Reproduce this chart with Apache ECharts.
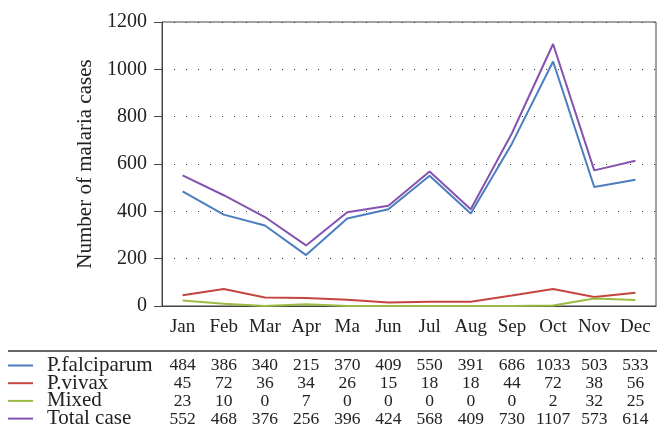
<!DOCTYPE html>
<html><head><meta charset="utf-8">
<script src="https://cdn.jsdelivr.net/npm/echarts@6/dist/echarts.min.js"></script>
<style>html,body{margin:0;padding:0;background:#fff}#c{width:657px;height:430px}</style>
</head><body><div id="c"></div>
<script>
const months = ['Jan','Feb','Mar','Apr','Ma','Jun','Jul','Aug','Sep','Oct','Nov','Dec'];
const falciparum = [484,386,340,215,370,409,550,391,686,1033,503,533];
const vivax = [45,72,36,34,26,15,18,18,44,72,38,56];
const mixed = [23,10,0,7,0,0,0,0,0,2,32,25];
const total = [552,468,376,256,396,424,568,409,730,1107,573,614];
const seriesNames = ['P.falciparum','P.vivax','Mixed','Total case'];
const colors = ['#4a7ebf','#c4463f','#9bbb43','#8652b0'];
const yTicks = [0,200,400,600,800,1000,1200];

const FONT = '"Liberation Serif", "DejaVu Serif", serif';
const rows = [falciparum, vivax, mixed, total];
const rowOffsets = [50, 68, 86, 104];

const chart = echarts.init(document.getElementById('c'));
const xAxes = [{
  type: 'category', data: months, gridIndex: 0, position: 'bottom',
  axisLine: {lineStyle: {color: '#444', width: 1}},
  axisTick: {alignWithLabel: true, length: 8, lineStyle: {color: '#444'}},
  axisLabel: {color: '#222', fontFamily: FONT, fontSize: 19, margin: 12, interval: 0},
  splitLine: {show: false}
}];
rows.forEach((r, k) => {
  xAxes.push({
    type: 'category', data: months, gridIndex: 0, position: 'bottom', offset: rowOffsets[k],
    axisLine: {show: false}, axisTick: {show: false}, splitLine: {show: false},
    axisLabel: {color: '#222', fontFamily: FONT, fontSize: 17.5, margin: 0, interval: 0,
      formatter: (v, i) => String(r[i])}
  });
});

chart.setOption({
  animation: false,
  grid: {left: 162, top: 22, right: 1, bottom: 124, show: true, borderColor: '#444', borderWidth: 1},
  legend: {
    orient: 'vertical', left: 8, top: 355, height: 90, width: 200, itemGap: -3.3, icon: 'rect', itemWidth: 25, itemHeight: 2,
    data: seriesNames,
    textStyle: {fontFamily: FONT, fontSize: 21, color: '#222', padding: [0,0,0,9]},
    padding: 0, selectedMode: false
  },
  xAxis: xAxes,
  yAxis: {
    type: 'value', min: 0, max: 1200, interval: 200,
    name: 'Number of malaria cases', nameLocation: 'middle', nameGap: 63,
    nameTextStyle: {fontFamily: FONT, fontSize: 21, color: '#222'},
    axisLine: {show: true, lineStyle: {color: '#444', width: 1}},
    axisTick: {show: true, length: 8, lineStyle: {color: '#444'}},
    axisLabel: {color: '#222', fontFamily: FONT, fontSize: 20, margin: 15,
      formatter: v => yTicks.includes(v) ? String(v) : ''},
    splitLine: {show: true, lineStyle: {color: '#333', width: 1, type: [1, 11]}}
  },
  graphic: [{type: 'line', shape: {x1: 8, y1: 351, x2: 657, y2: 351}, style: {stroke: '#333', lineWidth: 1.5}}],
  series: rows.map((r, k) => ({
    name: seriesNames[k], type: 'line', data: r, symbol: 'none', xAxisIndex: 0,
    lineStyle: {color: colors[k], width: 2}, itemStyle: {color: colors[k]}, z: 3
  }))
});
</script></body></html>
